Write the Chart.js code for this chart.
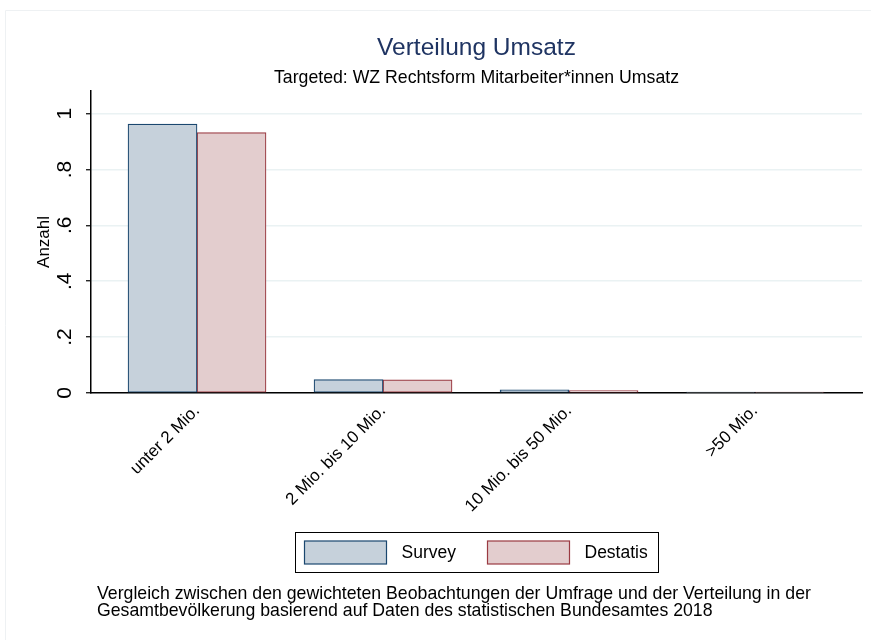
<!DOCTYPE html>
<html>
<head>
<meta charset="utf-8">
<script src="https://cdn.jsdelivr.net/npm/chart.js@4.4.0/dist/chart.umd.min.js"></script>
<style>
  html, body { margin: 0; padding: 0; background: #fff; }
  #wrap { width: 871px; height: 640px; }
</style>
</head>
<body>
<div id="wrap"><canvas id="umsatzChart" width="871" height="640"></canvas></div>
<script>
// Daten
const categories = ['unter 2 Mio.', '2 Mio. bis 10 Mio.', '10 Mio. bis 50 Mio.', '>50 Mio.'];
const surveyValues = [0.962, 0.048, 0.011, 0.003];
const destatisValues = [0.932, 0.047, 0.009, 0.003];
const yTickValues = [0, 0.2, 0.4, 0.6, 0.8, 1];
const yTickLabels = ['0', '.2', '.4', '.6', '.8', '1'];
const footnoteLines = [
  'Vergleich zwischen den gewichteten Beobachtungen der Umfrage und der Verteilung in der',
  'Gesamtbevölkerung basierend auf Daten des statistischen Bundesamtes 2018'
];

const FONT = '"Liberation Sans", Arial, Helvetica, sans-serif';

// Legende mit Rahmen (Stata-Stil) und Fußnote
const stataExtras = {
  id: 'stataExtras',
  afterDraw(chart) {
    const ctx = chart.ctx;
    const area = chart.chartArea;
    ctx.save();

    // schwacher Rahmen der Grafikregion
    ctx.strokeStyle = '#eef1f3';
    ctx.lineWidth = 1;
    ctx.beginPath();
    ctx.moveTo(5.5, 640);
    ctx.lineTo(5.5, 10.5);
    ctx.lineTo(871, 10.5);
    ctx.stroke();

    // Legende
    const cx = (area.left + area.right) / 2;
    const boxW = 363, boxH = 40, top = 532;
    const left = Math.round(cx - boxW / 2) + 0.5;
    ctx.strokeStyle = '#000';
    ctx.lineWidth = 1;
    ctx.strokeRect(left, top + 0.5, boxW, boxH);
    ctx.font = '17.5px ' + FONT;
    ctx.textBaseline = 'middle';
    ctx.textAlign = 'left';
    const offsets = [9, 192];
    chart.data.datasets.forEach((ds, i) => {
      const x = left + offsets[i];
      ctx.fillStyle = ds.backgroundColor;
      ctx.fillRect(x, top + 9, 82, 23);
      ctx.strokeStyle = ds.borderColor;
      ctx.lineWidth = 1.2;
      ctx.strokeRect(x, top + 9, 82, 23);
      ctx.fillStyle = '#000';
      ctx.fillText(ds.label, x + 97, top + 21);
    });

    // Fußnote
    ctx.font = '17.7px ' + FONT;
    ctx.textBaseline = 'alphabetic';
    footnoteLines.forEach((line, i) => {
      ctx.fillText(line, area.left + 6, 599 + i * 17);
    });
    ctx.restore();
  }
};

function toPoints(values) {
  return values.map((v, i) => ({ x: i + 1, y: v }));
}

const ctx = document.getElementById('umsatzChart').getContext('2d');
new Chart(ctx, {
  type: 'bar',
  data: {
    datasets: [
      {
        label: 'Survey',
        data: toPoints(surveyValues),
        backgroundColor: '#c6d1db',
        borderColor: '#1a476f',
        borderWidth: 1.2,
        borderSkipped: false,
        barThickness: 69
      },
      {
        label: 'Destatis',
        data: toPoints(destatisValues),
        backgroundColor: '#e3cdce',
        borderColor: '#9a3a42',
        borderWidth: 1.2,
        borderSkipped: false,
        barThickness: 69
      }
    ]
  },
  options: {
    responsive: false,
    animation: false,
    devicePixelRatio: 1,
    layout: { padding: { left: 0, right: 9, top: 0, bottom: 109 } },
    plugins: {
      legend: { display: false },
      tooltip: { enabled: false },
      title: {
        display: true,
        fullSize: false,
        text: 'Verteilung Umsatz',
        color: '#1f3462',
        font: { family: FONT, size: 24.5, weight: 'normal' },
        padding: { top: 33.3, bottom: 4.4 }
      },
      subtitle: {
        display: true,
        fullSize: false,
        text: 'Targeted: WZ Rechtsform Mitarbeiter*innen Umsatz',
        color: '#000',
        font: { family: FONT, size: 17.7 },
        padding: { top: 0.6, bottom: 2 }
      }
    },
    scales: {
      x: {
        type: 'linear',
        offset: false,
        bounds: 'data',
        min: 0.43,
        max: 4.575,
        afterBuildTicks: (scale) => {
          scale.ticks = categories.map((c, i) => ({ value: i + 1 }));
        },
        afterFit: (scale) => { scale.height = 138; },
        ticks: {
          minRotation: 45,
          maxRotation: 45,
          padding: 8,
          color: '#000',
          font: { family: FONT, size: 17 },
          callback: (value) => categories[value - 1]
        },
        grid: { display: false, drawTicks: false, offset: false },
        border: { display: true, color: '#000', width: 1.5 }
      },
      y: {
        min: 0,
        max: 1.081,
        afterBuildTicks: (scale) => {
          scale.ticks = yTickValues.map(v => ({ value: v }));
        },
        afterFit: (scale) => { scale.width = 91; },
        ticks: {
          minRotation: 90,
          maxRotation: 90,
          crossAlign: 'center',
          padding: 12,
          color: '#000',
          font: { family: FONT, size: 21 },
          callback: (value) => yTickLabels[yTickValues.indexOf(value)]
        },
        grid: {
          color: '#eaf2f3',
          lineWidth: 1.5,
          tickColor: '#000',
          tickLength: 5,
          tickWidth: 1.2
        },
        border: { display: true, color: '#000', width: 1.5 },
        title: {
          display: true,
          text: 'Anzahl',
          color: '#000',
          font: { family: FONT, size: 17 },
          padding: { top: 34, bottom: 0 }
        }
      }
    }
  },
  plugins: [stataExtras]
});
</script>
</body>
</html>
